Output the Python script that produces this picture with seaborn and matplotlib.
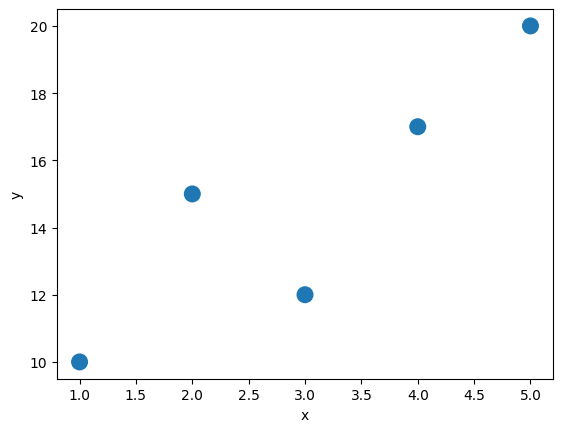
import matplotlib
matplotlib.use("Agg")
import matplotlib.pyplot as plt
import pandas as pd
import seaborn as sns

x_vals = [1, 2, 3, 4, 5]
y_vals = [10, 15, 12, 17, 20]

df = pd.DataFrame({"x": x_vals, "y": y_vals})

fig, ax = plt.subplots(figsize=(6.4, 4.8))
sns.scatterplot(data=df, x="x", y="y", s=150, color="#1f77b4", edgecolor="none", ax=ax)
ax.set_xlabel("x")
ax.set_ylabel("y")

fig.savefig("out.png", dpi=100, bbox_inches="tight")
